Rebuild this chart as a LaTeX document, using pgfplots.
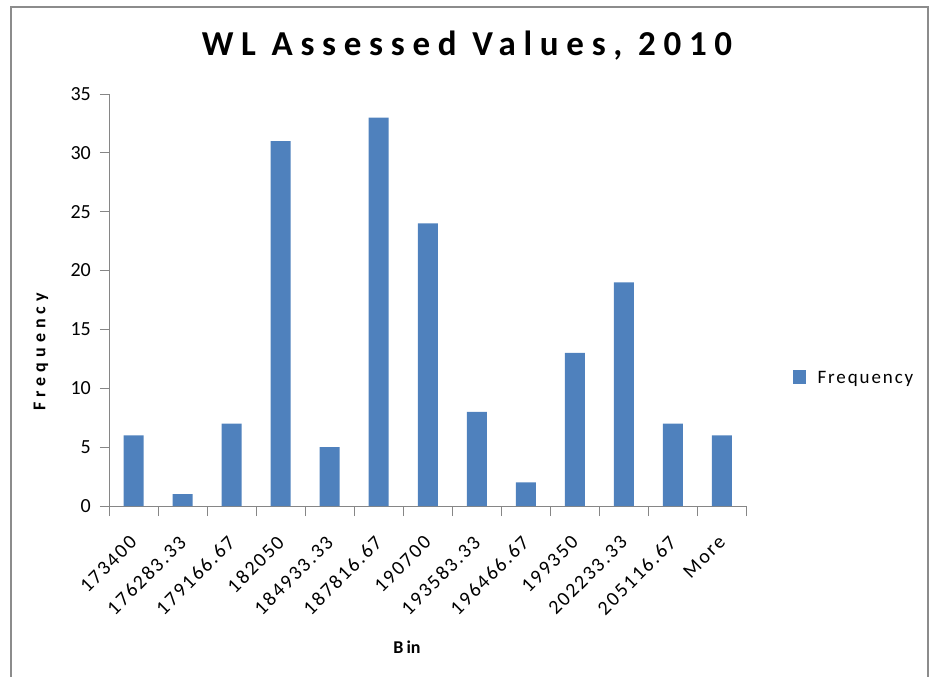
\documentclass[border=0pt]{standalone}
\usepackage{fontspec}
\setmainfont{Carlito}
\usepackage{pgfplots}
\pgfplotsset{compat=1.18}
\definecolor{barblue}{HTML}{4F81BD}
\definecolor{axgray}{HTML}{868686}
\begin{document}
\begin{tikzpicture}[x=1pt,y=1pt]
\path[use as bounding box] (0,0) rectangle (935,-677);
\draw[color=black!45, line width=1.2pt] (11,-677) -- (11,-7) -- (928,-7) -- (928,-677);
\node[font={\fontsize{35}{35}\selectfont\bfseries\addfontfeature{LetterSpace=22}}] at (467,-46) {WL Assessed Values, 2010};
\node[rotate=90, font={\fontsize{18}{18}\selectfont\bfseries\addfontfeature{LetterSpace=28}}] at (41,-352) {Frequency};
\node[font={\fontsize{18}{18}\selectfont\bfseries}] at (407,-647) {B\hspace{3pt}in};
\fill[barblue] (793,-370) rectangle (806,-384);
\node[anchor=west, font={\fontsize{19}{19}\selectfont\addfontfeature{LetterSpace=10}}] at (814,-379) {Frequency};
\begin{axis}[
  at={(109pt,-506pt)}, anchor=south west,
  width=637.5pt, height=412pt, scale only axis,
  xmin=-0.5, xmax=12.5, ymin=0, ymax=35,
  axis x line*=bottom, axis y line*=left,
  axis line style={-, draw=axgray, line width=1pt},
  tick style={draw=axgray, line width=1pt},
  tick align=outside,
  xtick={0,...,12},
  major x tick style={draw=none},
  minor xtick={-0.5,0.5,...,12.5},
  minor tick length=10pt,
  major tick length=9pt,
  xticklabels={173400,176283.33,179166.67,182050,184933.33,187816.67,190700,193583.33,196466.67,199350,202233.33,205116.67,More},
  xticklabel style={yshift=-24pt, xshift=0pt, rotate=45, anchor=east, inner sep=0pt,
    font={\fontsize{20}{20}\selectfont\addfontfeature{LetterSpace=10}}},
  ytick={0,5,...,35},
  yticklabel style={font={\fontsize{20}{20}\selectfont}, inner sep=0pt, xshift=-9pt},
  /pgf/number format/assume math mode=true,
  ybar, bar width=20pt,
]
\addplot[fill=barblue, draw=none] coordinates {
(0,6) (1,1) (2,7) (3,31) (4,5) (5,33) (6,24) (7,8) (8,2) (9,13) (10,19) (11,7) (12,6)};
\end{axis}
\end{tikzpicture}
\end{document}
